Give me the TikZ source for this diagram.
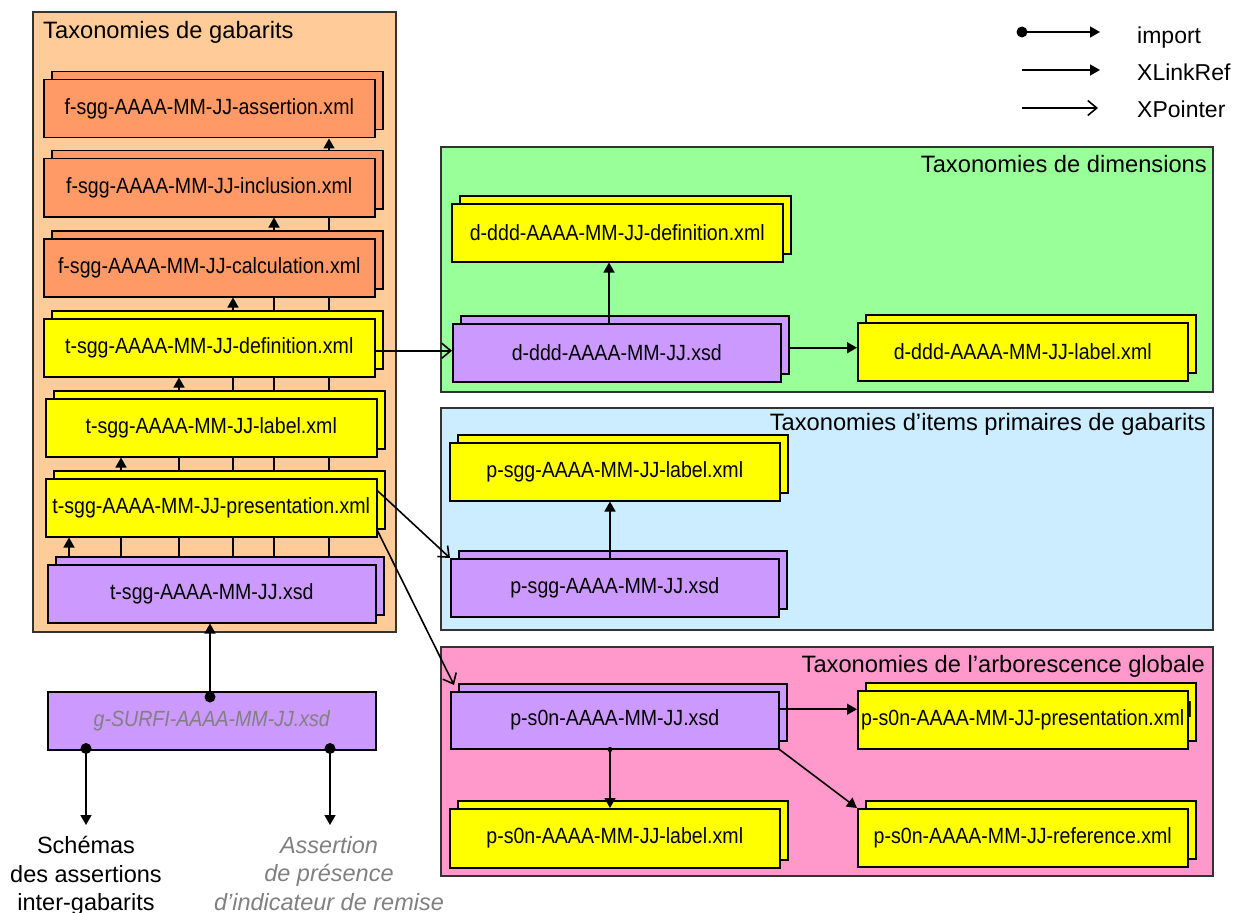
\documentclass[tikz,border=0pt]{standalone}
\usepackage{fontspec}
\setmainfont{Liberation Sans}
\newfontfamily\bxfont{Liberation Sans}[FakeStretch=0.89]
\usetikzlibrary{arrows.meta,calc}
\pgfdeclarelayer{contlayer}
\pgfdeclarelayer{hidlayer}
\pgfsetlayers{contlayer,hidlayer,main}
\definecolor{corange}{HTML}{FFCC99}
\definecolor{csalmon}{HTML}{FF9966}
\definecolor{cyel}{HTML}{FFFF00}
\definecolor{cpurp}{HTML}{CC99FF}
\definecolor{cgreen}{HTML}{99FF99}
\definecolor{cblue}{HTML}{CCECFF}
\definecolor{cpink}{HTML}{FF99CC}
\tikzset{
  fbox/.style={draw=black, line width=1.5pt, anchor=north west, inner sep=0pt,
    font=\bxfont\fontsize{22}{26}\selectfont},
  contbox/.style={draw=black!80, line width=1.5pt},
  titletext/.style={font=\fontsize{23.7}{28}\selectfont, inner sep=0pt},
  xl/.style={line width=1.6pt, -{Triangle[length=10pt,width=11pt]}},
  xp/.style={line width=1.6pt, -{Straight Barb[length=9pt,width=15pt]}},
  dotnode/.style={circle, fill=black, inner sep=0pt, minimum size=11pt},
  legtext/.style={anchor=base west, font=\fontsize{23}{28}\selectfont, inner sep=0pt},
}
\newcommand\mkstack[7]{%
  \node[fbox, fill=#6, minimum width=#4pt, minimum height=#5pt] (#1B) at (#2+8,#3-8) {};
  \node[fbox, fill=#6, minimum width=#4pt, minimum height=#5pt] (#1) at (#2,#3) {#7};
}
\begin{document}
\begin{tikzpicture}[x=1pt,y=-1pt]
\useasboundingbox (0,0) rectangle (1238,912);
\begin{pgfonlayer}{contlayer}
  \draw[contbox, fill=corange] (33,12) rectangle (396,632);
  \draw[contbox, fill=cgreen] (441,147) rectangle (1213,392);
  \draw[contbox, fill=cblue] (441,408) rectangle (1213,630);
  \draw[contbox, fill=cpink] (441,647) rectangle (1213,876);
\end{pgfonlayer}
\node[titletext, anchor=base west] (tg) at (43,39) {Taxonomies de gabarits};
\node[titletext, anchor=base east] (td) at (1207,172) {Taxonomies de dimensions};
\node[titletext, anchor=base east] (tp) at (1206,430) {Taxonomies d’items primaires de gabarits};
\node[titletext, anchor=base east] (ta) at (1205,672) {Taxonomies de l’arborescence globale};

% left column
\mkstack{fass}{43}{79}{331}{58}{csalmon}{f-sgg-AAAA-MM-JJ-assertion.xml}
\mkstack{finc}{43}{158}{331}{58}{csalmon}{f-sgg-AAAA-MM-JJ-inclusion.xml}
\mkstack{fcal}{43}{238}{331}{58}{csalmon}{f-sgg-AAAA-MM-JJ-calculation.xml}
\mkstack{tdef}{43}{318}{331}{58}{cyel}{t-sgg-AAAA-MM-JJ-definition.xml}
\mkstack{tlab}{45}{398}{331}{58}{cyel}{t-sgg-AAAA-MM-JJ-label.xml}
\mkstack{tpres}{45}{478}{331}{58}{cyel}{t-sgg-AAAA-MM-JJ-presentation.xml}
\mkstack{txsd}{47}{564}{328}{58}{cpurp}{t-sgg-AAAA-MM-JJ.xsd}
\node[fbox, fill=cpurp, minimum width=328pt, minimum height=58pt, text=black!50,
  font=\bxfont\itshape\fontsize{22}{26}\selectfont] (gs) at (47,691) {g-SURFI-AAAA-MM-JJ.xsd};

% right boxes
\mkstack{ddef}{451}{203}{331}{58}{cyel}{d-ddd-AAAA-MM-JJ-definition.xml}
\mkstack{dxsd}{452}{323}{328}{58}{cpurp}{d-ddd-AAAA-MM-JJ.xsd}
\mkstack{dlab}{857}{322}{330}{58}{cyel}{d-ddd-AAAA-MM-JJ-label.xml}
\mkstack{plab}{449}{442}{330}{58}{cyel}{p-sgg-AAAA-MM-JJ-label.xml}
\mkstack{pxsd}{450}{558}{328}{58}{cpurp}{p-sgg-AAAA-MM-JJ.xsd}
\mkstack{sxsd}{450}{691}{328}{57}{cpurp}{p-s0n-AAAA-MM-JJ.xsd}
\node[fbox, fill=cyel, minimum width=330pt, minimum height=58pt] (spresB) at (865,682) {p-s0n-AAAA-MM-JJ-presentation.xml};
\node[fbox, fill=cyel, minimum width=330pt, minimum height=58pt] (spres) at (857,690) {p-s0n-AAAA-MM-JJ-presentation.xml};
\mkstack{slab}{449}{808}{330}{59}{cyel}{p-s0n-AAAA-MM-JJ-label.xml}
\mkstack{sref}{857}{808}{330}{58}{cyel}{p-s0n-AAAA-MM-JJ-reference.xml}

% hidden connectors behind the left column
\begin{pgfonlayer}{hidlayer}
  \foreach \xx/\tgt in {69/tpres,121/tlab,179/tdef,233/fcal,274/finc,329/fass}
    \draw[xl] (\xx,0 |- txsd.north) -- (\xx,0 |- \tgt.south);
\end{pgfonlayer}

% import g-SURFI -> t-sgg xsd
\node[dotnode] (gd) at ($(210,0 |- gs.north)+(0,6)$) {};
\draw[xl] (gd.center) -- (gd.center |- txsd.south);
\node[dotnode] (gd1) at ($(86,0 |- gs.south)+(0,-2)$) {};
\node[dotnode] (gd2) at ($(330,0 |- gs.south)+(0,-2)$) {};
\coordinate (e1) at (86,825);
\coordinate (e2) at (330,825);
\draw[xl] (gd1.center) -- (e1);
\draw[xl] (gd2.center) -- (e2);
\node[anchor=north, align=center, inner sep=0pt, font=\fontsize{23.5}{28.5}\selectfont] (sch) at (86,836)
  {Schémas\\des assertions\\inter-gabarits};
\node[anchor=north, align=center, inner sep=0pt, text=black!50, font=\itshape\fontsize{23.5}{28.5}\selectfont] (ass) at (329,836)
  {Assertion\\de présence\\d’indicateur de remise};

% right connectors
\draw[xp] ($(tdef.east)+(0,3)$) coordinate (a1) -- (a1 -| dxsd.west);
\draw[xl] (609,0 |- dxsd.north) -- (609,0 |- ddef.south);
\draw[xl] ($(dxsdB.east)+(0,3)$) coordinate (a2) -- (a2 -| dlab.west);
\draw[xp] ($(tpres.east)+(0,-17)$) -- (pxsd.north west);
\draw[xp] ($(tpres.east)+(0,23)$) -- ($(sxsd.north west)+(4,-6)$);
\draw[xl] (610,0 |- pxsd.north) -- (610,0 |- plab.south);
\draw[xl] ($(sxsd.east)+(0,-11)$) coordinate (a3) -- (a3 -| spres.west);
\draw[xl] (sxsd.south east) -- (sref.north west);
\node[circle, fill=black, inner sep=0pt, minimum size=5pt] (sd) at (610,0 |- sxsd.south) {};
\draw[xl] (sd.center) -- (sd.center |- slab.north);

% legend
\node[dotnode] (l1) at (1022,32) {};
\coordinate (l1e) at (1100,32);
\draw[xl] (l1.center) -- (l1e);
\node[legtext] (l1t) at (1137,44) {import};
\coordinate (l2s) at (1022,70);
\coordinate (l2e) at (1100,70);
\draw[xl] (l2s) -- (l2e);
\node[legtext] (l2t) at (1137,81) {XLinkRef};
\coordinate (l3s) at (1022,108);
\coordinate (l3e) at (1098,108);
\draw[xp] (l3s) -- (l3e);
\node[legtext] (l3t) at (1137,118) {XPointer};
\end{tikzpicture}
\end{document}
